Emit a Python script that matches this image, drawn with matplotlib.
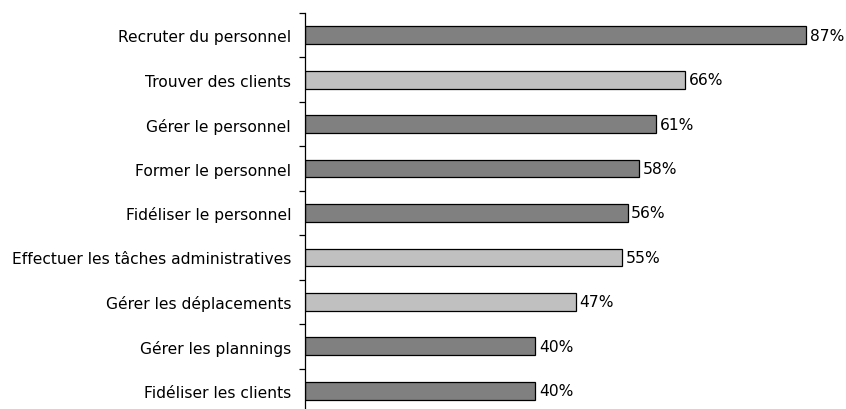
import matplotlib
matplotlib.use("Agg")
import matplotlib.pyplot as plt
import numpy as np

categories = [
    "Recruter du personnel",
    "Trouver des clients",
    "Gérer le personnel",
    "Former le personnel",
    "Fidéliser le personnel",
    "Effectuer les tâches administratives",
    "Gérer les déplacements",
    "Gérer les plannings",
    "Fidéliser les clients",
]
values = [87, 66, 61, 58, 56, 55, 47, 40, 40]
shade = ["dark", "light", "dark", "dark", "dark", "light", "light", "dark", "dark"]

C_DARK = "#808080"
C_LIGHT = "#C0C0C0"

plt.rcParams["font.family"] = "DejaVu Sans"

fig = plt.figure(figsize=(8.46, 4.10), dpi=100)
# axis runs off the bottom of the canvas, like the original export
ax = fig.add_axes([305 / 846, -4 / 410, 530 / 846, 400 / 410])

y = np.arange(len(categories))
colors = [C_DARK if s == "dark" else C_LIGHT for s in shade]
bars = ax.barh(y, values, height=0.4, color=colors, edgecolor="black", linewidth=0.9)
ax.bar_label(bars, labels=[f"{v}%" for v in values], padding=2.5, fontsize=11.2)

ax.set_xlim(0, 92)
ax.set_ylim(len(categories) - 0.5, -0.5)

for s in ["top", "right", "bottom"]:
    ax.spines[s].set_visible(False)
ax.spines["left"].set_linewidth(0.9)
ax.set_xticks([])

# tick marks between categories, labels centred on bars
ax.set_yticks(np.arange(-0.5, len(categories)), labels=[])
ax.tick_params(axis="y", which="major", length=4, width=0.9, direction="out")
ax.set_yticks(y, labels=categories, minor=True)
ax.tick_params(axis="y", which="minor", length=0, pad=10, labelsize=11.2)

fig.savefig("out.png", dpi=100)
